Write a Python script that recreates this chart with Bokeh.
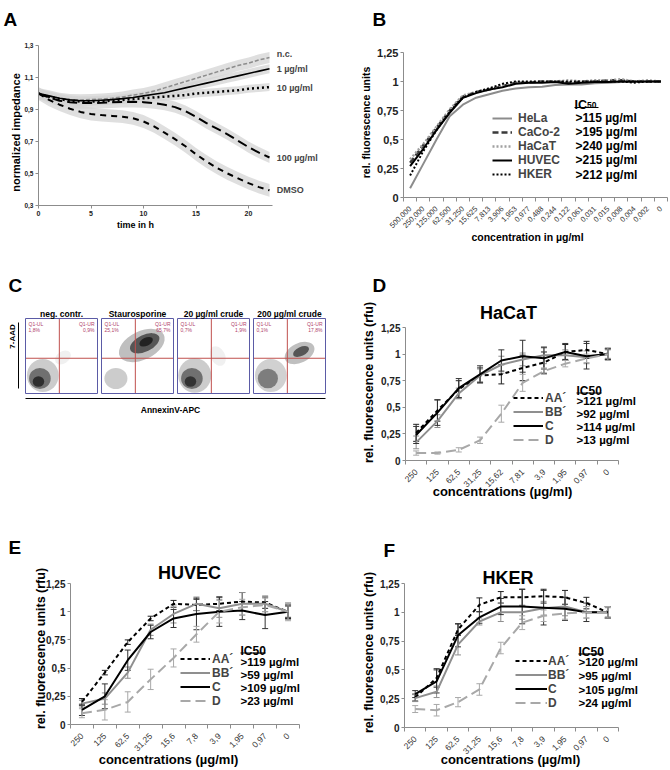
import math
from bokeh.plotting import figure
from bokeh.models import (Range1d, FixedTicker, CustomJSTickFormatter,
                          Label, Legend, LegendItem, Whisker, TeeHead, ColumnDataSource)
from bokeh.layouts import row, column
from bokeh.embed import file_html
from bokeh.resources import INLINE

FONT = "Liberation Sans"

# ---------------- Panel A: impedance over time ----------------
a_hours = list(range(23))
a_nc    = [1.000, 0.985, 0.970, 0.962, 0.960, 0.962, 0.965, 0.970, 0.978, 0.990, 1.000, 1.015,
           1.035, 1.055, 1.075, 1.095, 1.115, 1.135, 1.155, 1.175, 1.190, 1.210, 1.225]
a_1ug   = [1.000, 0.985, 0.970, 0.960, 0.955, 0.955, 0.958, 0.962, 0.968, 0.975, 0.985, 0.995,
           1.005, 1.020, 1.035, 1.050, 1.065, 1.080, 1.095, 1.110, 1.125, 1.140, 1.155]
a_10ug  = [1.000, 0.980, 0.965, 0.955, 0.950, 0.950, 0.952, 0.955, 0.960, 0.965, 0.970, 0.975,
           0.980, 0.985, 0.990, 1.000, 1.005, 1.010, 1.015, 1.020, 1.030, 1.035, 1.040]
a_100ug = [1.000, 0.975, 0.955, 0.945, 0.940, 0.940, 0.942, 0.945, 0.947, 0.948, 0.946, 0.940,
           0.930, 0.915, 0.890, 0.855, 0.815, 0.780, 0.745, 0.705, 0.665, 0.630, 0.600]
a_dmso  = [1.000, 0.960, 0.930, 0.905, 0.885, 0.872, 0.865, 0.860, 0.855, 0.845, 0.825, 0.795,
           0.755, 0.715, 0.670, 0.620, 0.575, 0.535, 0.500, 0.470, 0.440, 0.415, 0.395]
a_names = ["n.c.", "1 µg/ml", "10 µg/ml", "100 µg/ml", "DMSO"]
a_sd    = [0.035, 0.028, 0.025, 0.035, 0.040]
a_xticks = [0, 5, 10, 15, 20]
a_yticks = [0.3, 0.5, 0.7, 0.9, 1.1, 1.3]

# ---------------- Panel B: cell lines ----------------
b_conc = ["500,000", "250,000", "125,000", "62,500", "31,250", "15,625", "7,813", "3,906",
          "1,953", "0,977", "0,488", "0,244", "0,122", "0,061", "0,031", "0,015", "0,008",
          "0,004", "0,002", "0"]
b_hela  = [0.08, 0.29, 0.50, 0.70, 0.80, 0.86, 0.89, 0.92, 0.94, 0.95, 0.955, 0.97, 0.975, 0.975,
           0.985, 0.99, 0.995, 0.995, 1.00, 1.00]
b_caco  = [0.30, 0.45, 0.60, 0.75, 0.87, 0.91, 0.93, 0.96, 0.99, 0.99, 1.00, 1.00, 0.99, 1.00,
           1.00, 1.01, 1.01, 1.00, 1.00, 1.00]
b_hacat = [0.33, 0.46, 0.61, 0.76, 0.88, 0.91, 0.94, 0.97, 0.99, 0.99, 1.00, 1.00, 1.01, 1.00,
           1.01, 1.01, 1.02, 1.00, 1.01, 1.00]
b_huvec = [0.27, 0.42, 0.58, 0.73, 0.86, 0.90, 0.93, 0.95, 0.98, 0.99, 0.99, 0.995, 0.98, 0.99,
           0.995, 0.995, 1.00, 1.00, 1.00, 1.00]
b_hker  = [0.19, 0.40, 0.58, 0.74, 0.86, 0.91, 0.94, 0.98, 1.00, 1.00, 1.00, 1.00, 1.00, 1.00,
           1.00, 1.00, 1.00, 0.99, 1.00, 1.00]
b_names = ["HeLa", "CaCo-2", "HaCaT", "HUVEC", "HKER"]
b_ic50  = [">115 µg/ml", ">195 µg/ml", ">240 µg/ml", ">215 µg/ml", ">212 µg/ml"]

# ---------------- Panel C: flow cytometry ----------------
c_titles = ["neg. contr.", "Staurosporine", "20 µg/ml crude", "200 µg/ml crude"]
c_ul = ["1,8%", "25,1%", "0,7%", "0,1%"]
c_ur = ["0,9%", "65,7%", "1,9%", "17,8%"]
# cell populations: centre (AnnexinV, 7-AAD; log decades), spread, angle, density
c_cx  = [[1.2, 1.0, 0.9, 2.6], [2.8, 3.0, 3.1, 1.0], [1.2, 1.0, 0.9, 2.8], [1.2, 1.0, 3.2, 3.3]]
c_cy  = [[1.2, 1.0, 0.8, 2.4], [3.2, 3.35, 3.45, 1.0], [1.2, 1.0, 0.8, 2.5], [1.2, 1.0, 2.7, 2.8]]
c_w   = [[2.2, 1.5, 0.8, 1.2], [3.4, 2.2, 1.0, 1.6], [2.3, 1.5, 0.8, 1.0], [2.2, 1.4, 2.2, 1.2]]
c_h   = [[2.2, 1.4, 0.7, 0.8], [1.9, 1.1, 0.55, 1.4], [2.3, 1.4, 0.7, 1.4], [2.2, 1.3, 1.3, 0.6]]
c_ang = [[0.0, 0.0, 0.0, 0.6], [0.45, 0.45, 0.45, 0.0], [0.0, 0.0, 0.0, 0.5], [0.0, 0.0, 0.45, 0.45]]
c_den = [[0.2, 0.45, 0.6, 0.06], [0.25, 0.55, 0.6, 0.2], [0.2, 0.45, 0.55, 0.06], [0.18, 0.4, 0.25, 0.55]]
c_gate_x = 2.35
c_gate_y = 2.35

# ---------------- Panels D/E/F ----------------
d_conc = ["250", "125", "62,5", "31,25", "15,62", "7,81", "3,9", "1,95", "0,97", "0"]
ef_conc = ["250", "125", "62,5", "31,25", "15,6", "7,8", "3,9", "1,95", "0,97", "0"]
fr_names = ["AA´", "BB´", "C", "D"]

d_vals = [[0.26, 0.47, 0.67, 0.80, 0.81, 0.87, 0.92, 1.02, 1.04, 1.00],
          [0.17, 0.37, 0.63, 0.80, 0.90, 0.95, 0.99, 0.99, 0.97, 1.00],
          [0.24, 0.45, 0.68, 0.81, 0.94, 0.98, 0.96, 1.02, 0.98, 1.00],
          [0.07, 0.07, 0.10, 0.19, 0.44, 0.73, 0.84, 0.91, 0.96, 1.00]]
d_errs = [[0.08, 0.10, 0.08, 0.07, 0.09, 0.12, 0.10, 0.07, 0.08, 0.05],
          [0.06, 0.06, 0.05, 0.06, 0.08, 0.06, 0.08, 0.05, 0.06, 0.04],
          [0.08, 0.12, 0.09, 0.08, 0.10, 0.15, 0.10, 0.08, 0.12, 0.05],
          [0.02, 0.01, 0.02, 0.03, 0.08, 0.08, 0.03, 0.03, 0.04, 0.06]]
d_ic50 = [">121 µg/ml", ">92 µg/ml", ">114 µg/ml", ">13 µg/ml"]

e_vals = [[0.20, 0.46, 0.73, 0.94, 1.07, 1.06, 1.07, 1.09, 1.08, 1.00],
          [0.185, 0.23, 0.46, 0.84, 0.98, 1.07, 1.03, 1.07, 1.07, 1.00],
          [0.13, 0.25, 0.57, 0.82, 0.94, 0.98, 1.00, 1.01, 0.97, 1.00],
          [0.10, 0.13, 0.20, 0.40, 0.59, 0.80, 1.00, 1.04, 1.06, 1.00]]
e_errs = [[0.03, 0.02, 0.02, 0.02, 0.03, 0.05, 0.06, 0.08, 0.05, 0.06],
          [0.03, 0.05, 0.05, 0.05, 0.08, 0.06, 0.08, 0.10, 0.07, 0.07],
          [0.05, 0.11, 0.09, 0.06, 0.08, 0.14, 0.13, 0.08, 0.12, 0.05],
          [0.04, 0.09, 0.09, 0.09, 0.08, 0.07, 0.10, 0.07, 0.06, 0.08]]
e_ic50 = [">119 µg/ml", ">59 µg/ml", ">109 µg/ml", ">23 µg/ml"]

f_vals = [[0.26, 0.43, 0.85, 1.065, 1.13, 1.13, 1.14, 1.13, 1.08, 1.00],
          [0.255, 0.31, 0.72, 0.92, 1.00, 1.00, 1.035, 1.05, 1.00, 1.00],
          [0.29, 0.40, 0.80, 0.955, 1.05, 1.05, 1.04, 1.03, 1.00, 1.00],
          [0.16, 0.15, 0.22, 0.33, 0.69, 0.91, 0.97, 0.99, 1.00, 1.00]]
f_errs = [[0.03, 0.08, 0.05, 0.06, 0.05, 0.07, 0.06, 0.06, 0.05, 0.05],
          [0.03, 0.05, 0.09, 0.03, 0.08, 0.06, 0.06, 0.08, 0.05, 0.04],
          [0.03, 0.10, 0.10, 0.05, 0.07, 0.15, 0.15, 0.10, 0.08, 0.05],
          [0.03, 0.05, 0.04, 0.05, 0.05, 0.06, 0.05, 0.05, 0.05, 0.05]]
f_ic50 = [">120 µg/ml", ">95 µg/ml", ">105 µg/ml", ">24 µg/ml"]

rfu_ticks = [0, 0.25, 0.5, 0.75, 1.0, 1.25]


# ---------------- helpers ----------------
class Panel:
    """A figure whose plotting frame fills its whole canvas; (left, top) is its page position."""

    def __init__(self, left, top, W, H, xv, xpx, xppu, yv, ypx, yppu, axes=True):
        self.left, self.top, self.W, self.H = left, top, W, H
        self.xppu, self.yppu = xppu, yppu
        self.xs = xv - (xpx - left) / xppu
        self.ye = yv + (ypx - top) / yppu
        kw = {} if axes else dict(x_axis_location=None, y_axis_location=None)
        p = figure(width=W, height=H,
                   x_range=Range1d(self.xs, self.xs + W / xppu),
                   y_range=Range1d(self.ye - H / yppu, self.ye),
                   min_border=0, min_border_left=0, min_border_right=0,
                   min_border_top=0, min_border_bottom=0,
                   output_backend="svg", toolbar_location=None, title=None, **kw)
        p.xgrid.visible = False
        p.ygrid.visible = False
        p.outline_line_color = None
        p.background_fill_color = "white"
        p.border_fill_color = "white"
        self.p = p

    def dx(self, px):
        return self.xs + (px - self.left) / self.xppu

    def dy(self, py):
        return self.ye - (py - self.top) / self.yppu

    def sx(self, px):
        return px - self.left

    def sy(self, py):
        return self.top + self.H - py

    def text(self, px, py, text, size, align="left", baseline="alphabetic", angle=0.0,
             color="black", style="bold"):
        self.p.add_layout(Label(x=self.sx(px), y=self.sy(py), x_units="screen", y_units="screen",
                                text=text, text_font=FONT, text_font_size=size,
                                text_font_style=style, text_align=align, text_baseline=baseline,
                                angle=angle, text_color=color))

    def hline(self, px0, px1, py, color="black", width=1.0):
        self.p.segment(x0=[self.dx(px0)], x1=[self.dx(px1)], y0=[self.dy(py)], y1=[self.dy(py)],
                       line_color=color, line_width=width)

    def vline(self, px, py0, py1, color="black", width=1.0):
        self.p.segment(x0=[self.dx(px)], x1=[self.dx(px)], y0=[self.dy(py0)], y1=[self.dy(py1)],
                       line_color=color, line_width=width)


def comma_fmt():
    return CustomJSTickFormatter(
        code="return (Math.round(tick * 100) / 100).toString().replace('.', ',');")


def cat_fmt(labels):
    return CustomJSTickFormatter(args=dict(labels=labels),
                                 code="return labels[Math.floor(tick)];")


def style_axes(p, ysize, xsize, xbold=True, xcolor="#222222"):
    for ax in p.axis:
        ax.axis_line_color = "#8c8c8c"
        ax.major_tick_line_color = "#8c8c8c"
        ax.minor_tick_line_color = "#8c8c8c"
        ax.major_tick_in = 0
        ax.major_tick_out = 3
        ax.minor_tick_in = 0
        ax.minor_tick_out = 0
        ax.major_label_standoff = 2
        ax.major_label_text_font = FONT
    p.yaxis.major_label_text_font_size = ysize
    p.yaxis.major_label_text_font_style = "bold"
    p.yaxis.major_label_text_color = "#222222"
    p.xaxis.major_label_text_font_size = xsize
    p.xaxis.major_label_text_font_style = "bold" if xbold else "normal"
    p.xaxis.major_label_text_color = xcolor


def cat_x_axis(p, cats):
    n = len(cats)
    centers = [i + 0.5 for i in range(n)]
    p.xaxis.ticker = FixedTicker(ticks=centers, minor_ticks=list(range(n + 1)))
    p.xaxis.formatter = cat_fmt(cats)
    p.xaxis.major_tick_out = 0
    p.xaxis.minor_tick_out = 4
    p.xaxis.major_label_standoff = 6
    p.xaxis.major_label_orientation = math.pi / 4
    p.xaxis.fixed_location = 0
    p.xaxis.bounds = (0, n)
    p.yaxis.fixed_location = 0
    p.yaxis.bounds = (0, 1.25)
    p.yaxis.ticker = FixedTicker(ticks=rfu_ticks)
    p.yaxis.formatter = comma_fmt()
    return centers


def add_legend(P, items, px, row0, pitch, gw, standoff):
    n = len(items)
    bottom = row0 - pitch / 2 + n * pitch
    leg = Legend(items=items, location=(P.sx(px), P.sy(bottom)), orientation="vertical",
                 glyph_width=gw, glyph_height=int(pitch), label_height=int(pitch),
                 label_standoff=standoff, spacing=0, padding=0, margin=0,
                 border_line_color=None, background_fill_alpha=0,
                 label_text_font=FONT, label_text_font_size="12px", label_text_font_style="bold")
    P.p.add_layout(leg)


# ======================= Panel A =======================
A = Panel(0, 0, 335, 230, 0, 38, 10.5, 1.3, 45, 160)
pA = A.p
style_axes(pA, "6.5px", "7px")
pA.xaxis.ticker = FixedTicker(ticks=a_xticks)
pA.yaxis.ticker = FixedTicker(ticks=a_yticks)
pA.yaxis.formatter = comma_fmt()
pA.xaxis.fixed_location = a_yticks[0]
pA.yaxis.fixed_location = 0
pA.xaxis.bounds = (0, 22.3)
pA.yaxis.bounds = (a_yticks[0], a_yticks[-1])

a_series = [a_nc, a_1ug, a_10ug, a_100ug, a_dmso]
for vals, sd in zip(a_series, a_sd):
    pA.varea(x=a_hours, y1=[v - sd for v in vals], y2=[v + sd for v in vals],
             fill_color="#d4d4d4", fill_alpha=0.75)
a_styles = [dict(line_color="#8c8c8c", line_dash="4 2", line_width=1.5),
            dict(line_color="black", line_dash="solid", line_width=1.6),
            dict(line_color="black", line_dash="2 3", line_width=2.5),
            dict(line_color="black", line_dash="10 5", line_width=2),
            dict(line_color="black", line_dash="6 5", line_width=2)]
for vals, st in zip(a_series, a_styles):
    pA.line(a_hours, vals, **st)
a_label_shift = [4, 0, -1, 0, 0]
for name, vals, dy in zip(a_names, a_series, a_label_shift):
    pA.add_layout(Label(x=a_hours[-1] + 0.3, y=vals[-1], x_offset=4, y_offset=dy, text=name,
                        text_font=FONT, text_font_size="9px", text_font_style="bold",
                        text_baseline="middle"))
A.text(3, 19, "A", "19px")
A.text(135, 224, "time in h", "9px", align="center")
A.text(15, 132, "normalized impedance", "11px", align="center", baseline="middle", angle=math.pi / 2)

# ======================= Panel B =======================
B = Panel(335, 0, 334, 260, 0, 403, 13.2, 1.25, 52, 116)
pB = B.p
style_axes(pB, "11px", "7.5px", xbold=False, xcolor="#333333")
b_x = cat_x_axis(pB, b_conc)

b_series = [b_hela, b_caco, b_hacat, b_huvec, b_hker]
b_styles = [dict(line_color="#8c8c8c", line_dash="solid", line_width=2),
            dict(line_color="#3a3a3a", line_dash="6 3", line_width=2.5),
            dict(line_color="#a0a0a0", line_dash="2 2", line_width=2.5),
            dict(line_color="black", line_dash="solid", line_width=2),
            dict(line_color="black", line_dash="2 2", line_width=2)]
b_items = []
for name, vals, st in zip(b_names, b_series, b_styles):
    r = pB.line(b_x, vals, **st)
    b_items.append(LegendItem(label=name, renderers=[r]))
add_legend(B, b_items, 492, 117.3, 14.2, 20, 6)
for i, s in enumerate(b_ic50):
    B.text(575, 117.3 + i * 14.2, s, "12px", baseline="middle")
B.text(574, 104, "IC", "12.5px")
B.text(586.5, 104, "50", "8.5px")
B.hline(574, 598, 107, width=1.2)
B.text(372, 19, "B", "19px")
B.text(527, 236, "concentration in µg/ml", "10.5px", align="center")
B.text(365, 122, "rel. fluorescence units", "10.5px", align="center", baseline="middle",
       angle=math.pi / 2)

# ======================= Panel C =======================
c_box_left = [25, 101, 177, 253]
c_canvas = [(0, 99), (99, 175), (175, 251), (251, 335)]
c_figs = []
for i in range(4):
    cl, cr = c_canvas[i]
    F_ = Panel(cl, 230, cr - cl, 165, 0, c_box_left[i], 14.4, 5, 318, 15, axes=False)
    f = F_.p
    f.ellipse(x=c_cx[i], y=c_cy[i], width=c_w[i], height=c_h[i], angle=c_ang[i],
              fill_color="black", fill_alpha=c_den[i], line_color=None)
    f.segment(x0=[c_gate_x, 0], y0=[0, c_gate_y], x1=[c_gate_x, 5], y1=[5, c_gate_y],
              line_color="#c0504d", line_width=1)
    f.quad(left=[0], right=[5], bottom=[0], top=[5], fill_color=None,
           line_color="#5b5ba6", line_width=1)
    bl = c_box_left[i]
    F_.text(bl + 36, 313, c_titles[i], "8.5px", align="center")
    F_.text(bl + 3, 320, "Q1-UL", "5px", baseline="top", color="#b0406a", style="normal")
    F_.text(bl + 3, 326, c_ul[i], "5px", baseline="top", color="#b0406a", style="normal")
    F_.text(bl + 69, 320, "Q1-UR", "5px", align="right", baseline="top", color="#b0406a", style="normal")
    F_.text(bl + 69, 326, c_ur[i], "5px", align="right", baseline="top", color="#b0406a", style="normal")
    if i == 0:
        F_.text(8, 285, "C", "19px")
        F_.text(12, 336, "7-AAD", "8px", align="center", baseline="middle", angle=math.pi / 2)
        F_.vline(18, 322, 388)
    c_figs.append(f)

CB = Panel(0, 395, 335, 85, 0, 0, 1, 0, 395 + 85, 1, axes=False)
CB.hline(25, 325, 398)
CB.text(170, 409, "AnnexinV-APC", "8.5px", align="center")


# ======================= Panels D/E/F =======================
def dose_panel(P, cats, vals, errs, ic50, title, letter, g):
    p = P.p
    style_axes(p, "10px", "8.5px", xbold=False, xcolor="#333333")
    xs = cat_x_axis(p, cats)
    colors = ["black", "#8f8f8f", "black", "#a8a8a8"]
    err_colors = ["#222222", "#8f8f8f", "#333333", "#a8a8a8"]
    dashes = ["4 3", "solid", "solid", "10 5"]
    items = []
    for name, v, e, c, ec, d in zip(fr_names, vals, errs, colors, err_colors, dashes):
        src = ColumnDataSource(dict(x=xs, lower=[a - b for a, b in zip(v, e)],
                                    upper=[a + b for a, b in zip(v, e)]))
        p.add_layout(Whisker(source=src, base="x", lower="lower", upper="upper",
                             line_color=ec, line_width=1,
                             upper_head=TeeHead(size=6, line_color=ec, line_width=1),
                             lower_head=TeeHead(size=6, line_color=ec, line_width=1)))
        r = p.line(xs, v, line_color=c, line_dash=d, line_width=2)
        items.append(LegendItem(label=name, renderers=[r]))
    add_legend(P, items, g["leg_x"], g["row0"], g["pitch"], g["gw"], g["standoff"])
    for i, s in enumerate(ic50):
        P.text(g["ic_x"], g["row0"] + i * g["pitch"], s, "11.5px", baseline="middle")
    P.text(g["ic_x"], g["hdr_y"], "IC50", "12px")
    P.hline(g["ic_x"], g["ic_x"] + 25, g["hdr_y"] + 2.5, width=1.2)
    P.text(g["title"][0], g["title"][1], title, "18px", align="center")
    P.text(g["let"][0], g["let"][1], letter, "19px")
    P.text(g["xl"][0], g["xl"][1], "concentrations (µg/ml)", "13px", align="center")
    P.text(g["yl"][0], g["yl"][1], "rel. fluorescence units (rfu)", "12.5px", align="center",
           baseline="middle", angle=math.pi / 2)
    return p


D = Panel(335, 260, 334, 240, 0, 405, 21.3, 1.25, 327, 106.4)
pD = dose_panel(D, d_conc, d_vals, d_errs, d_ic50, "HaCaT", "D",
                dict(leg_x=513, row0=400, pitch=13.3, gw=30, standoff=2, ic_x=576, hdr_y=390,
                     title=(508, 312), let=(372, 285), xl=(502, 491), yl=(368, 382)))
E = Panel(0, 480, 335, 289, 0, 70, 22.9, 1.25, 583, 112.8)
pE = dose_panel(E, ef_conc, e_vals, e_errs, e_ic50, "HUVEC", "E",
                dict(leg_x=180, row0=661, pitch=13.3, gw=30, standoff=2, ic_x=240, hdr_y=650,
                     title=(189, 572), let=(8, 547), xl=(168, 759), yl=(40, 648)))
Fp = Panel(335, 500, 334, 269, 0, 404, 21.4, 1.25, 583, 115.2)
pF = dose_panel(Fp, ef_conc, f_vals, f_errs, f_ic50, "HKER", "F",
                dict(leg_x=515, row0=661.7, pitch=13.7, gw=32, standoff=1, ic_x=578, hdr_y=651,
                     title=(507.5, 577), let=(383, 550), xl=(510, 759), yl=(368, 652)))

left = column(pA, row(*c_figs), CB.p, pE)
right = column(pB, pD, pF)
layout = row(left, right)

open("out.html", "w").write(file_html(layout, INLINE))
